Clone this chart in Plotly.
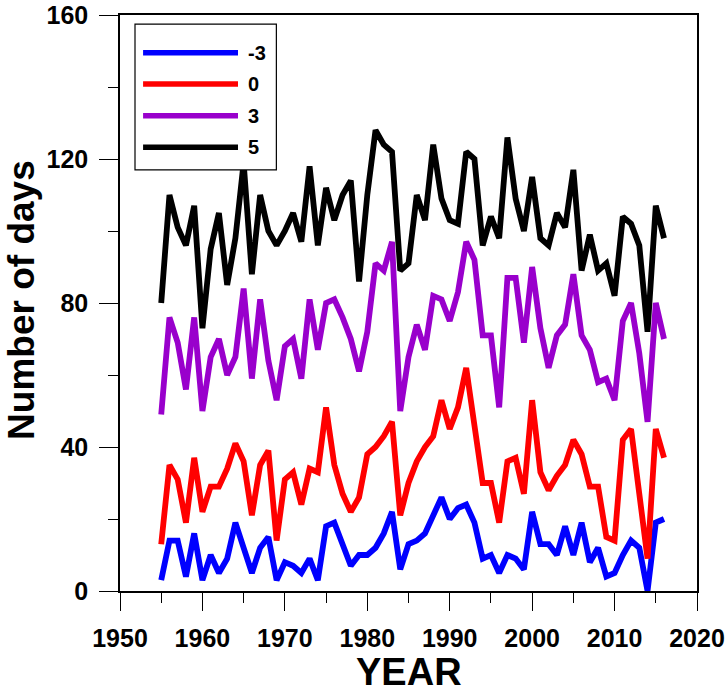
import plotly.graph_objects as go

years = [1955, 1956, 1957, 1958, 1959, 1960, 1961, 1962, 1963, 1964,
         1965, 1966, 1967, 1968, 1969, 1970, 1971, 1972, 1973, 1974,
         1975, 1976, 1977, 1978, 1979, 1980, 1981, 1982, 1983, 1984,
         1985, 1986, 1987, 1988, 1989, 1990, 1991, 1992, 1993, 1994,
         1995, 1996, 1997, 1998, 1999, 2000, 2001, 2002, 2003, 2004,
         2005, 2006, 2007, 2008, 2009, 2010, 2011, 2012, 2013, 2014,
         2015, 2016]

days_m3 = [3, 14, 14, 4, 16, 3, 10, 5, 9, 19,
           12, 5, 12, 15, 3, 8, 7, 5, 9, 3,
           18, 19, 13, 7, 10, 10, 12, 16, 22, 6,
           13, 14, 16, 21, 26, 20, 23, 24, 19, 9,
           10, 5, 10, 9, 6, 22, 13, 13, 10, 18,
           10, 19, 8, 12, 4, 5, 10, 14, 12, 0,
           19, 20]

days_0 = [13, 35, 31, 19, 37, 22, 29, 29, 34, 41,
          36, 21, 35, 39, 14, 31, 33, 24, 34, 33,
          51, 35, 27, 22, 26, 38, 40, 43, 47, 21,
          30, 36, 40, 43, 53, 45, 51, 62, 46, 30,
          30, 19, 36, 37, 27, 53, 33, 28, 32, 35,
          42, 38, 29, 29, 15, 14, 42, 45, 27, 9,
          45, 37]

days_3 = [49, 76, 69, 56, 76, 50, 65, 70, 60, 65,
          84, 59, 81, 64, 53, 68, 70, 59, 81, 67,
          80, 81, 76, 70, 61, 72, 91, 89, 97, 50,
          65, 74, 67, 82, 81, 75, 83, 97, 92, 71,
          71, 51, 87, 87, 69, 90, 73, 62, 71, 74,
          88, 71, 67, 58, 59, 53, 75, 80, 66, 47,
          80, 70]

days_5 = [80, 110, 101, 96, 107, 73, 95, 105, 85, 98,
          119, 88, 110, 100, 96, 100, 105, 97, 118, 96,
          112, 103, 110, 114, 86, 110, 128, 124, 122, 89,
          91, 110, 103, 124, 109, 103, 102, 122, 120, 96,
          104, 98, 126, 109, 100, 115, 98, 96, 105, 101,
          117, 89, 99, 89, 91, 82, 104, 102, 96, 72,
          107, 98]

series_names = ["-3", "0", "3", "5"]
series_values = [days_m3, days_0, days_3, days_5]
series_colors = ["#0000FF", "#FF0000", "#9900CC", "#000000"]

x_ticks = [1950, 1960, 1970, 1980, 1990, 2000, 2010, 2020]
y_ticks = [0, 40, 80, 120, 160]

FONT = "Liberation Sans, Arial, sans-serif"

fig = go.Figure()
for name, vals, col in zip(series_names, series_values, series_colors):
    fig.add_trace(go.Scatter(x=years, y=vals, mode="lines", name=name,
                             line=dict(color=col, width=5.8),
                             showlegend=False))

# custom legend (long line samples like the original)
leg_x0, leg_x1 = 0.026, 0.271
leg_y0, leg_y1 = 0.731, 0.984
fig.add_shape(type="rect", xref="paper", yref="paper",
              x0=leg_x0, x1=leg_x1, y0=leg_y0, y1=leg_y1,
              line=dict(color="black", width=1.2), fillcolor="white", layer="above")
leg_rows = [0.9346, 0.8802, 0.8252, 0.7703]
for name, col, yy in zip(series_names, series_colors, leg_rows):
    fig.add_shape(type="line", xref="paper", yref="paper",
                  x0=0.040, x1=0.2045, y0=yy, y1=yy,
                  line=dict(color=col, width=5.5), layer="above")
    fig.add_annotation(xref="paper", yref="paper", x=0.2184, y=yy,
                       xanchor="left", yanchor="middle", text=name,
                       showarrow=False,
                       font=dict(family=FONT, size=20, color="black", weight="bold"))

fig.add_annotation(xref="paper", yref="paper", x=-0.172, y=0.505,
                   text="Number of days", textangle=-90, showarrow=False,
                   xanchor="center", yanchor="middle",
                   font=dict(family=FONT, size=37, color="black", weight="bold"))
fig.add_annotation(xref="paper", yref="paper", x=0.5, y=-0.1406,
                   text="YEAR", showarrow=False,
                   xanchor="center", yanchor="middle",
                   font=dict(family=FONT, size=38, color="black", weight="bold"))

fig.update_xaxes(range=[1950, 2020], tickvals=x_ticks, automargin=False,
                 ticks="outside", ticklen=18, tickwidth=1.3, tickcolor="black",
                 minor=dict(dtick=5, tick0=1950, ticks="outside", ticklen=10,
                            tickwidth=1.3, tickcolor="black", showgrid=False),
                 showline=True, linecolor="black", linewidth=1.5, mirror=True,
                 showgrid=False, zeroline=False,
                 tickfont=dict(family=FONT, size=25, color="black", weight="bold"),
                 ticklabelstandoff=6)
fig.update_yaxes(range=[0, 160], tickvals=y_ticks, automargin=False,
                 ticks="outside", ticklen=19, tickwidth=1.3, tickcolor="black",
                 minor=dict(dtick=20, tick0=0, ticks="outside", ticklen=10,
                            tickwidth=1.3, tickcolor="black", showgrid=False),
                 showline=True, linecolor="black", linewidth=1.5, mirror=True,
                 showgrid=False, zeroline=False,
                 tickfont=dict(family=FONT, size=25, color="black", weight="bold"),
                 ticklabelstandoff=6)

fig.update_layout(width=726, height=693,
                  margin=dict(l=120, r=29, t=15, b=102),
                  plot_bgcolor="white", paper_bgcolor="white",
                  showlegend=False)

fig.write_html("out.html", config={"displayModeBar": False},
               post_script="document.body.style.margin='0';")
